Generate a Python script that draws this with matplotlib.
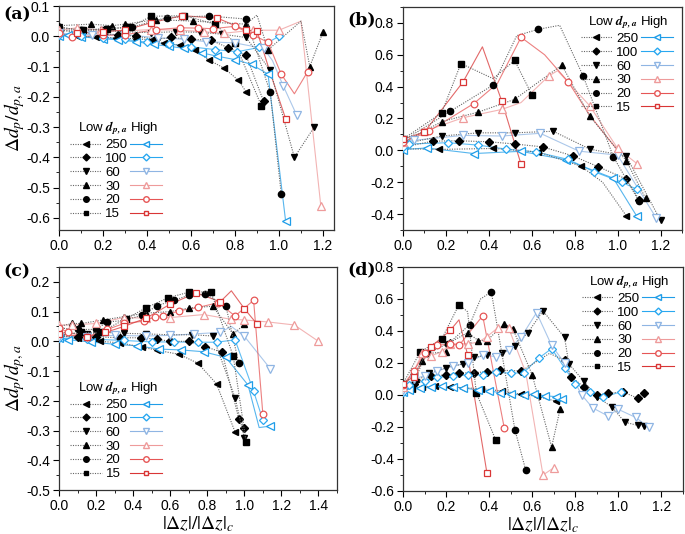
import numpy as np
import matplotlib.pyplot as plt
from matplotlib.ticker import MultipleLocator
from matplotlib.lines import Line2D

plt.rcParams['font.family'] = ['Liberation Sans', 'DejaVu Sans']
plt.rcParams['mathtext.fontset'] = 'stix'

sizes = ['250', '100', '60', '30', '20', '15']
markers = ['<', 'D', 'v', '^', 'o', 's']
msizes = [5, 4, 5, 5, 4.5, 4]
colors = ['#1f9de8', '#2aa8f0', '#8fb5e3', '#ee9b9b', '#e65656', '#d93636']

# each series: x list, y list, indices without marker
# ---- panel (a)
a_black = {
    '250': ([0, 0.08, 0.17, 0.26, 0.35, 0.42, 0.475, 0.55, 0.62, 0.68, 0.75, 0.815, 0.85],
            [0.005, 0.0, -0.003, -0.005, -0.008, -0.012, -0.022, -0.03, -0.045, -0.078, -0.105, -0.145, -0.183], []),
    '100': ([0, 0.1, 0.2, 0.27, 0.35, 0.44, 0.51, 0.6, 0.69, 0.77, 0.85, 0.93],
            [0.02, 0.012, 0.008, 0.005, 0.0, -0.01, -0.004, -0.01, -0.013, -0.038, -0.062, -0.215], []),
    '60': ([0, 0.1, 0.2, 0.3, 0.42, 0.53, 0.64, 0.74, 0.85, 0.96, 1.07, 1.16],
           [0.03, 0.02, 0.02, 0.015, 0.012, 0.015, 0.013, 0.007, -0.004, -0.112, -0.4, -0.3], []),
    '30': ([0, 0.145, 0.24, 0.3, 0.44, 0.61, 0.85, 0.9, 0.95, 1.1, 1.14, 1.2],
           [0.035, 0.04, 0.035, 0.04, 0.055, 0.05, 0.04, 0.07, -0.045, 0.05, -0.1, 0.014], [7, 9]),
    '20': ([0, 0.1, 0.22, 0.33, 0.49, 0.68, 0.85, 0.96, 1.01],
           [0.03, 0.02, 0.025, 0.03, 0.062, 0.067, 0.057, -0.185, -0.52], []),
    '15': ([0, 0.11, 0.22, 0.32, 0.42, 0.57, 0.71, 0.8, 0.92],
           [0.02, 0.02, 0.025, 0.03, 0.066, 0.068, 0.04, -0.022, -0.23], []),
}
a_color = {
    '250': ([0, 0.04, 0.1, 0.2, 0.27, 0.35, 0.43, 0.5, 0.57, 0.65, 0.72, 0.8, 0.875, 0.95, 1.03],
            [0.0, 0.003, -0.002, -0.008, -0.012, -0.018, -0.027, -0.033, -0.04, -0.055, -0.066, -0.077, -0.093, -0.125, -0.61], []),
    '100': ([0, 0.1, 0.2, 0.3, 0.4, 0.5, 0.6, 0.71, 0.81, 0.91, 1.0],
            [0.005, 0.0, -0.005, -0.01, -0.02, -0.025, -0.035, -0.044, -0.051, -0.037, 0.0], []),
    '60': ([0, 0.15, 0.3, 0.45, 0.57, 0.67, 0.8, 0.93, 0.97, 1.02, 1.08],
           [0.01, 0.005, 0.005, -0.005, -0.01, -0.018, -0.022, -0.04, -0.08, -0.165, -0.26], [8]),
    '30': ([0, 0.08, 0.19, 0.3, 0.42, 0.55, 0.66, 0.75, 0.88, 1.0, 1.1, 1.19],
           [0.02, 0.028, 0.02, 0.018, 0.022, 0.02, 0.015, 0.01, 0.02, 0.02, 0.05, -0.56], [10]),
    '20': ([0, 0.06, 0.2, 0.3, 0.44, 0.55, 0.63, 0.7, 0.8, 0.88, 0.95, 1.01, 1.07, 1.13],
           [0.01, -0.002, 0.003, 0.005, 0.022, 0.028, 0.027, 0.025, 0.033, 0.005, -0.02, -0.125, -0.19, -0.117], [12]),
    '15': ([0.08, 0.2, 0.3, 0.42, 0.56, 0.72, 0.85, 0.9, 0.96, 1.03],
           [0.01, 0.015, 0.02, 0.045, 0.068, 0.06, 0.02, 0.017, -0.12, -0.272], [8]),
}

# ---- panel (b)
b_black = {
    '250': ([0, 0.17, 0.42, 0.63, 0.83, 0.93, 1.04],
            [0.01, 0.006, 0.012, -0.01, -0.1, -0.2, -0.41], [5]),
    '100': ([0, 0.14, 0.26, 0.4, 0.52, 0.65, 0.79, 0.91, 1.04, 1.1],
            [0.02, 0.058, 0.06, 0.054, 0.04, 0.022, -0.034, -0.103, -0.18, -0.31], []),
    '60': ([0, 0.18, 0.35, 0.52, 0.7, 0.87, 1.04, 1.2],
           [0.04, 0.09, 0.11, 0.11, 0.12, 0.008, -0.036, -0.44], []),
    '30': ([0, 0.18, 0.35, 0.52, 0.74, 0.87, 1.04, 1.13],
           [0.05, 0.18, 0.24, 0.32, 0.535, 0.215, -0.065, -0.3], []),
    '20': ([0, 0.22, 0.42, 0.53, 0.63, 0.73, 0.84, 0.98, 1.1],
           [0.06, 0.245, 0.41, 0.72, 0.76, 0.785, 0.465, -0.04, -0.32], [3, 5]),
    '15': ([0, 0.18, 0.27, 0.42, 0.52, 0.6],
           [0.07, 0.235, 0.545, 0.45, 0.565, 0.35], [3]),
}
b_color = {
    '250': ([0, 0.11, 0.33, 0.55, 0.76, 0.98, 1.09],
            [0.005, 0.015, -0.02, -0.006, -0.06, -0.175, -0.415], []),
    '100': ([0, 0.03, 0.21, 0.35, 0.48, 0.62, 0.77, 0.89, 1.02, 1.09],
            [0.02, 0.04, 0.048, 0.033, 0.008, -0.01, -0.057, -0.134, -0.2, -0.245], []),
    '60': ([0, 0.05, 0.28, 0.46, 0.64, 0.82, 1.0, 1.18],
           [0.05, 0.063, 0.094, 0.09, 0.107, -0.005, -0.03, -0.425], []),
    '30': ([0, 0.1, 0.28, 0.46, 0.55, 0.68, 0.72, 0.87, 1.0, 1.09],
           [0.05, 0.12, 0.205, 0.257, 0.3, 0.468, 0.5, 0.28, 0.012, -0.083], [4, 6]),
    '20': ([0, 0.12, 0.33, 0.44, 0.55, 0.66, 0.77, 0.87, 1.0],
           [0.05, 0.12, 0.294, 0.42, 0.71, 0.6, 0.43, 0.22, 0.0], [3, 5, 7, 8]),
    '15': ([0, 0.1, 0.28, 0.37, 0.46, 0.55],
           [0.07, 0.115, 0.43, 0.65, 0.31, -0.087], [3]),
}

# ---- panel (c)
c_black = {
    '250': ([0, 0.1, 0.22, 0.33, 0.45, 0.53, 0.65, 0.75, 0.85, 0.95],
            [0.02, 0.01, 0.0, -0.005, -0.02, -0.03, -0.044, -0.074, -0.143, -0.305], []),
    '100': ([0, 0.1, 0.2, 0.33, 0.44, 0.53, 0.6, 0.7, 0.79, 0.88, 0.97, 1.0],
            [0.02, 0.015, 0.015, 0.012, 0.012, 0.007, 0.0, 0.0, -0.018, -0.037, -0.26, -0.29], []),
    '60': ([0, 0.15, 0.25, 0.35, 0.47, 0.6, 0.72, 0.83, 0.95, 1.0],
           [0.03, 0.025, 0.03, 0.027, 0.025, 0.022, 0.022, 0.018, -0.19, -0.325], []),
    '30': ([0, 0.07, 0.12, 0.24, 0.35, 0.47, 0.6, 0.7, 0.83, 0.94, 1.0],
           [0.05, 0.06, 0.06, 0.072, 0.083, 0.095, 0.1, 0.112, 0.118, 0.024, 0.057], []),
    '20': ([0, 0.1, 0.2, 0.26, 0.35, 0.45, 0.53, 0.62, 0.7, 0.79, 0.9, 0.97],
           [0.045, 0.04, 0.04, 0.065, 0.07, 0.088, 0.12, 0.138, 0.155, 0.158, 0.12, -0.074], []),
    '15': ([0, 0.12, 0.22, 0.36, 0.47, 0.59, 0.7, 0.82, 0.94, 1.01],
           [0.02, 0.03, 0.03, 0.075, 0.113, 0.147, 0.165, 0.167, -0.05, -0.34], []),
}
c_color = {
    '250': ([0, 0.05, 0.17, 0.3, 0.42, 0.54, 0.66, 0.78, 0.9, 1.02, 1.08, 1.14],
            [0.012, 0.005, -0.002, -0.01, -0.015, -0.026, -0.029, -0.035, -0.054, -0.147, -0.29, -0.285], [10]),
    '100': ([0, 0.15, 0.35, 0.5, 0.62, 0.75, 0.85, 0.95, 1.05, 1.1],
            [0.01, 0.008, 0.003, -0.002, -0.002, -0.003, -0.003, 0.005, -0.168, -0.265], []),
    '60': ([0, 0.15, 0.3, 0.47, 0.6, 0.73, 0.87, 0.93, 1.0, 1.14],
           [0.015, 0.015, 0.02, 0.018, 0.02, 0.025, 0.03, 0.05, 0.017, -0.092], [7]),
    '30': ([0, 0.07, 0.2, 0.35, 0.47, 0.6, 0.78, 0.93, 1.0, 1.13, 1.27, 1.4],
           [0.055, 0.055, 0.06, 0.08, 0.078, 0.08, 0.09, 0.074, 0.072, 0.065, 0.055, 0.0], []),
    '20': ([0, 0.05, 0.15, 0.26, 0.35, 0.46, 0.52, 0.56, 0.65, 0.75, 0.86, 0.95, 1.05, 1.1],
           [0.045, 0.03, 0.015, 0.04, 0.06, 0.068, 0.083, 0.085, 0.103, 0.114, 0.13, 0.085, 0.138, -0.245], []),
    '15': ([0, 0.15, 0.25, 0.35, 0.47, 0.6, 0.74, 0.87, 0.93, 1.0, 1.07],
           [0.025, 0.015, 0.03, 0.05, 0.078, 0.125, 0.163, 0.133, 0.17, 0.11, 0.057], [8]),
}

# ---- panel (d)
d_black = {
    '250': ([0, 0.04, 0.09, 0.15, 0.22, 0.28, 0.36, 0.46, 0.55, 0.62, 0.71],
            [0.02, 0.04, 0.05, 0.055, 0.05, 0.045, 0.04, 0.025, 0.005, -0.008, -0.038], []),
    '100': ([0, 0.05, 0.13, 0.2, 0.26, 0.33, 0.39, 0.45, 0.55, 0.68, 0.75, 0.78, 0.84, 0.9, 0.95, 1.02, 1.09, 1.12],
            [0.03, 0.07, 0.12, 0.125, 0.137, 0.14, 0.145, 0.155, 0.15, 0.26, 0.217, 0.115, 0.05, -0.003, 0.01, 0.02, -0.02, 0.015], [9]),
    '60': ([0, 0.06, 0.12, 0.2, 0.28, 0.33, 0.39, 0.46, 0.52, 0.58, 0.65, 0.75, 0.77, 0.84, 0.9, 0.97, 1.03, 1.09, 1.12],
           [0.03, 0.08, 0.14, 0.17, 0.195, 0.235, 0.25, 0.26, 0.305, 0.39, 0.525, 0.36, 0.195, 0.085, -0.01, -0.075, -0.17, -0.19, -0.195], []),
    '30': ([0, 0.06, 0.09, 0.12, 0.2, 0.22, 0.3, 0.35, 0.39, 0.47, 0.51, 0.6, 0.69, 0.73],
           [0.04, 0.1, 0.21, 0.26, 0.27, 0.33, 0.39, 0.34, 0.34, 0.445, 0.415, 0.125, -0.325, -0.085], []),
    '20': ([0, 0.05, 0.11, 0.21, 0.31, 0.36, 0.41, 0.52, 0.57],
           [0.06, 0.13, 0.26, 0.32, 0.44, 0.6, 0.645, -0.22, -0.47], [5]),
    '15': ([0, 0.08, 0.18, 0.26, 0.3, 0.34, 0.43],
           [0.07, 0.27, 0.35, 0.565, 0.52, 0.015, -0.28], [4]),
}
d_color = {
    '250': ([0, 0.03, 0.08, 0.13, 0.18, 0.23, 0.28, 0.35, 0.4, 0.45, 0.5, 0.56, 0.61, 0.66, 0.71, 0.74],
            [0.02, 0.03, 0.045, 0.05, 0.055, 0.05, 0.045, 0.03, 0.025, 0.015, 0.005, 0.0, 0.005, -0.005, -0.01, -0.025], []),
    '100': ([0, 0.03, 0.1, 0.16, 0.23, 0.3, 0.37, 0.43, 0.5, 0.56, 0.63, 0.69, 0.75, 0.8, 0.87, 0.93, 1.01],
            [0.02, 0.06, 0.09, 0.11, 0.12, 0.125, 0.125, 0.145, 0.135, 0.14, 0.23, 0.29, 0.17, 0.07, 0.02, -0.015, 0.02], []),
    '60': ([0, 0.05, 0.1, 0.16, 0.23, 0.3, 0.37, 0.43, 0.49, 0.55, 0.62, 0.69, 0.75, 0.83, 0.88, 0.95, 1.0, 1.08, 1.14],
           [0.03, 0.1, 0.12, 0.15, 0.18, 0.2, 0.25, 0.24, 0.28, 0.365, 0.515, 0.31, 0.2, 0.0, -0.08, -0.13, -0.09, -0.14, -0.2], []),
    '30': ([0, 0.05, 0.09, 0.13, 0.18, 0.22, 0.3, 0.35, 0.39, 0.44, 0.49, 0.57, 0.65, 0.7],
           [0.05, 0.15, 0.26, 0.245, 0.27, 0.32, 0.32, 0.33, 0.365, 0.42, 0.42, 0.14, -0.5, -0.455], [1, 7, 11]),
    '20': ([0, 0.05, 0.1, 0.16, 0.22, 0.26, 0.37, 0.47],
           [0.06, 0.15, 0.26, 0.31, 0.32, 0.31, 0.495, -0.205], []),
    '15': ([0, 0.05, 0.13, 0.22, 0.26, 0.3, 0.39],
           [0.07, 0.115, 0.3, 0.405, 0.47, 0.25, -0.49], [4]),
}

panels = [
    ('(a)', a_black, a_color, (0, 1.25), (-0.64, 0.1), 0.1, 'lower left', (0.02, 0.02)),
    ('(b)', b_black, b_color, (0, 1.3), (-0.5, 0.9), 0.2, 'upper right', (1.0, 0.995)),
    ('(c)', c_black, c_color, (0, 1.5), (-0.5, 0.25), 0.1, 'lower left', (0.02, 0.02)),
    ('(d)', d_black, d_color, (0, 1.3), (-0.6, 0.8), 0.2, 'upper right', (1.0, 0.995)),
]
axpos = [(59, 6, 334, 230), (403, 7, 682, 230), (59, 267, 337, 490), (403, 267, 683, 491)]
labpos = [(3, 15), (347, 20), (3, 272), (347, 270)]

W, H = 685, 534
fig = plt.figure(figsize=(W / 100, H / 100), dpi=100)

for k, (lab, blk, col, xl, yl, ystep, loc, anchor) in enumerate(panels):
    l, t, r, b = axpos[k]
    ax = fig.add_axes([l / W, 1 - b / H, (r - l) / W, (b - t) / H])
    hb, hc = [], []
    for i, s in enumerate(sizes):
        x, y, hide = blk[s]
        me = [j for j in range(len(x)) if j not in hide]
        ax.plot(x, y, ls=(0, (1, 1.2)), color='#666666', lw=0.8, marker=markers[i],
                ms=msizes[i], mfc='black', mec='black', markevery=me, zorder=3)
        x, y, hide = col[s]
        me = [j for j in range(len(x)) if j not in hide]
        ax.plot(x, y, '-', color=colors[i], lw=0.8, alpha=0.75, zorder=2)
        ax.plot(x, y, ls='none', marker=markers[i], ms=msizes[i] + 0.3, mfc='white',
                mec=colors[i], mew=0.9, markevery=me, zorder=4)
        hb.append(Line2D([], [], ls=(0, (1, 1.2)), color='#666666', lw=0.8, marker=markers[i],
                         ms=msizes[i] - 0.5, mfc='black', mec='black'))
        hc.append(Line2D([], [], color=colors[i], lw=0.8, marker=markers[i], ms=msizes[i] - 0.5,
                         mfc='white', mec=colors[i]))
    ax.set_xlim(*xl)
    ax.set_ylim(*yl)
    ax.xaxis.set_major_locator(MultipleLocator(0.2))
    ax.xaxis.set_minor_locator(MultipleLocator(0.1))
    ax.yaxis.set_major_locator(MultipleLocator(ystep))
    ax.yaxis.set_minor_locator(MultipleLocator(ystep / 2))
    ax.tick_params(which='both', direction='out', labelsize=10, pad=2.5)
    ax.tick_params(which='major', length=4)
    ax.tick_params(which='minor', length=2.5)
    for sp in ax.spines.values():
        sp.set_color('#333333')
        sp.set_linewidth(0.9)
    ax.yaxis.set_major_formatter(plt.FuncFormatter(lambda v, p: '%.1f' % (0.0 if abs(v) < 1e-9 else v)))
    ax.xaxis.set_major_formatter(plt.FuncFormatter(lambda v, p: '%.1f' % v))
    ax.legend(hb + hc, sizes + [''] * 6, ncol=2, loc=loc, bbox_to_anchor=anchor,
              frameon=False, fontsize=9.5, title='Low $\\mathbfit{d}_{\\mathbfit{p,a}}$ High',
              title_fontsize=9.5, handlelength=2.4, handletextpad=0.3,
              columnspacing=0.2, labelspacing=0.12, borderaxespad=0.2, borderpad=0.2)
    if k % 2 == 0:
        ax.set_ylabel('$\\Delta d_p/d_{p,a}$', fontsize=14)
        ax.yaxis.set_label_coords(-32 / (r - l), 0.5)
    if k >= 2:
        ax.set_xlabel('$|\\Delta z|/|\\Delta z|_c$', fontsize=14, labelpad=1)
    fig.text(labpos[k][0] / W, 1 - labpos[k][1] / H, lab, fontsize=12.5,
             fontweight='bold', family='DejaVu Serif', ha='left', va='center')

fig.savefig('out.png', dpi=100)
